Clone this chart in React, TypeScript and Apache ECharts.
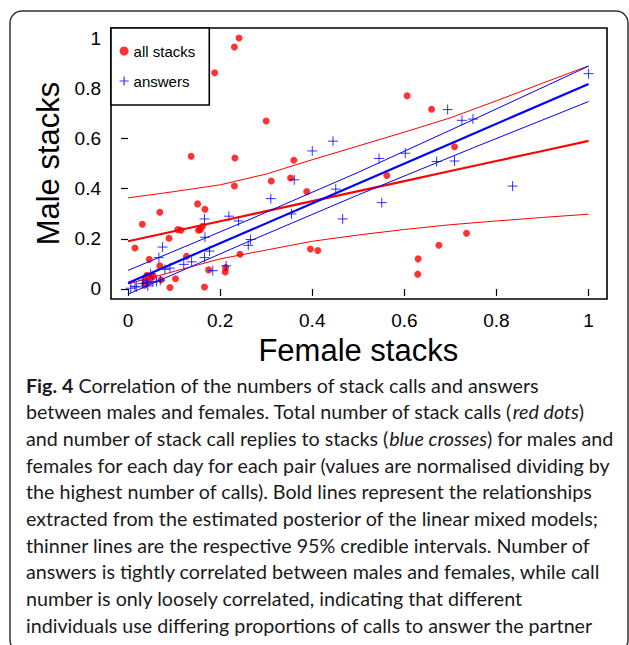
import React, { useEffect, useRef } from "react";
import * as echarts from "echarts";

const FONT = "'Liberation Sans', Arial, Helvetica, sans-serif";
const CAP_FONT = "Lato, 'Open Sans', sans-serif";

const xTicks = [0, 0.2, 0.4, 0.6, 0.8, 1];
const yTicks = [0, 0.2, 0.4, 0.6, 0.8, 1];

// all stacks (red dots)
const stackX = [0.241, 0.231, 0.188, 0.3, 0.137, 0.232, 0.36, 0.353, 0.311, 0.231, 0.388, 0.151, 0.167, 0.069, 0.031, 0.162, 0.153, 0.157, 0.108, 0.115, 0.089, 0.015, 0.127, 0.046, 0.243, 0.069, 0.175, 0.211, 0.212, 0.103, 0.072, 0.041, 0.049, 0.038, 0.045, 0.055, 0.036, 0.091, 0.166, 0.396, 0.412, 0.606, 0.659, 0.709, 0.562, 0.63, 0.629, 0.675, 0.735];
const stackY = [1.0, 0.964, 0.862, 0.669, 0.529, 0.522, 0.513, 0.442, 0.43, 0.41, 0.388, 0.339, 0.318, 0.306, 0.258, 0.25, 0.234, 0.237, 0.237, 0.234, 0.202, 0.163, 0.13, 0.118, 0.138, 0.092, 0.076, 0.068, 0.085, 0.041, 0.037, 0.055, 0.048, 0.035, 0.028, 0.05, 0.015, 0.006, 0.008, 0.159, 0.153, 0.77, 0.716, 0.567, 0.452, 0.12, 0.059, 0.174, 0.222];

// answers (blue crosses)
const answerX = [0.4, 0.361, 0.31, 0.355, 0.219, 0.24, 0.166, 0.167, 0.075, 0.266, 0.261, 0.067, 0.177, 0.166, 0.138, 0.121, 0.184, 0.213, 0.08, 0.091, 0.049, 0.07, 0.062, 0.04, 0.031, 0.043, 0.015, 0.018, 0.006, 0.054, 0.033, 0.445, 0.451, 0.466, 0.545, 0.551, 0.602, 0.67, 0.709, 0.694, 0.725, 0.749, 0.835, 1.0];
const answerY = [0.55, 0.435, 0.36, 0.299, 0.29, 0.271, 0.279, 0.206, 0.167, 0.197, 0.174, 0.125, 0.151, 0.125, 0.108, 0.098, 0.073, 0.092, 0.078, 0.083, 0.061, 0.035, 0.03, 0.025, 0.022, 0.012, 0.011, 0.008, 0.003, 0.028, 0.035, 0.589, 0.398, 0.279, 0.52, 0.344, 0.541, 0.508, 0.51, 0.715, 0.672, 0.677, 0.41, 0.858];

// model lines for stacks
const stackLineX = [0, 0.1, 0.2, 0.3, 0.4, 0.5, 0.6, 0.7, 0.8, 0.9, 1];
const stackFit = [0.19, 0.23, 0.27, 0.31, 0.35, 0.39, 0.43, 0.47, 0.51, 0.55, 0.59];
const stackUpper = [0.363, 0.388, 0.415, 0.458, 0.515, 0.57, 0.625, 0.682, 0.75, 0.82, 0.889];
const stackLower = [0.02, 0.07, 0.12, 0.155, 0.19, 0.215, 0.237, 0.256, 0.271, 0.285, 0.298];

// model lines for answers
const answerLineX = [0, 0.25, 0.5, 0.75, 1];
const answerFit = [0.024, 0.222, 0.42, 0.619, 0.817];
const answerUpper = [0.074, 0.266, 0.465, 0.675, 0.888];
const answerLower = [-0.021, 0.18, 0.375, 0.563, 0.747];

const captionLines = [
  "{b|Fig. 4} Correlation of the numbers of stack calls and answers",
  "between males and females. Total number of stack calls ({i|red dots})",
  "and number of stack call replies to stacks ({i|blue crosses}) for males and",
  "females for each day for each pair (values are normalised dividing by",
  "the highest number of calls). Bold lines represent the relationships",
  "extracted from the estimated posterior of the linear mixed models;",
  "thinner lines are the respective 95% credible intervals. Number of",
  "answers is tightly correlated between males and females, while call",
  "number is only loosely correlated, indicating that different",
  "individuals use differing proportions of calls to answer the partner",
];

const CROSS = "path://M5,0L5,10M0,5L10,5";
const RED = "#ff0000";
const BLUE = "#0000ff";

const pairs = (xs: number[], ys: number[]) => xs.map((x, i) => [x, ys[i]]);
const fmt = (v: number) => String(Math.round(v * 10) / 10);

export default function App() {
  const ref = useRef<HTMLDivElement>(null);
  useEffect(() => {
    if (!ref.current) return;
    const chart = echarts.init(ref.current, undefined, { renderer: "svg" });
    const capSize = 19.7;
    const box = { left: 111, top: 28, width: 496, height: 271 };
    const pxPerX = box.width / 1.077;
    const pxPerY = box.height / 1.08;
    const dataGrid = {
      left: box.left + 0.037 * pxPerX,
      top: box.top + 0.04 * pxPerY,
      width: pxPerX,
      height: pxPerY,
    };
    const xOffset = box.top + box.height - (dataGrid.top + dataGrid.height);
    const yOffset = dataGrid.left - box.left;

    const lineSeries = (xs: number[], ys: number[], color: string, width: number) => ({
      type: "line",
      xAxisIndex: 1,
      yAxisIndex: 1,
      data: pairs(xs, ys),
      showSymbol: false,
      symbol: "none",
      silent: true,
      clip: false,
      lineStyle: { color, width },
      z: 3,
    });
    const labelStyle = {
      formatter: fmt,
      fontSize: 19,
      fontFamily: FONT,
      color: "#000",
      hideOverlap: false,
      showMinLabel: true,
      showMaxLabel: true,
    };
    chart.setOption({
      animation: false,
      backgroundColor: "#ffffff",
      grid: [
        {
          ...box,
          show: true,
          borderColor: "#000",
          borderWidth: 1.6,
          backgroundColor: "transparent",
        },
        { ...dataGrid, show: false },
      ],
      xAxis: [
        { type: "value", gridIndex: 0, min: 0, max: 1, show: false },
        {
          type: "value",
          gridIndex: 1,
          min: 0,
          max: 1,
          interval: 0.2,
          offset: xOffset,
          axisLine: { show: false },
          splitLine: { show: false },
          axisTick: { show: true, length: 7, lineStyle: { color: "#000", width: 1.2 } },
          axisLabel: { ...labelStyle, margin: 12 },
          name: "Female stacks",
          nameLocation: "middle",
          nameGap: 36,
          nameTextStyle: { fontSize: 31, fontFamily: FONT, color: "#000" },
        },
      ],
      yAxis: [
        { type: "value", gridIndex: 0, min: 0, max: 1, show: false },
        {
          type: "value",
          gridIndex: 1,
          min: 0,
          max: 1,
          interval: 0.2,
          offset: yOffset,
          axisLine: { show: false },
          splitLine: { show: false },
          axisTick: { show: true, length: 7, lineStyle: { color: "#000", width: 1.2 } },
          axisLabel: { ...labelStyle, margin: 10 },
        },
      ],
      legend: {
        left: 111,
        top: 28,
        orient: "vertical",
        padding: [13, 14, 14, 8],
        itemWidth: 9,
        itemHeight: 9,
        itemGap: 10,
        borderColor: "#000",
        borderWidth: 1.6,
        backgroundColor: "#fff",
        selectedMode: false,
        textStyle: { fontSize: 15, fontFamily: FONT, color: "#000", lineHeight: 20 },
        data: [
          { name: "all stacks", icon: "circle", itemStyle: { color: RED, borderWidth: 0 } },
          { name: "answers", icon: CROSS, itemStyle: { color: "transparent", borderColor: BLUE, borderWidth: 1.2 } },
        ],
      },
      graphic: [
        {
          type: "rect",
          silent: true,
          z: -10,
          shape: { x: 10, y: 11, width: 618, height: 641, r: 12 },
          style: { fill: "none", stroke: "#333", lineWidth: 1.5 },
        },
        {
          type: "text",
          silent: true,
          x: 48,
          y: box.top + box.height / 2,
          rotation: Math.PI / 2,
          style: {
            text: "Male stacks",
            fontSize: 31,
            fontFamily: FONT,
            fill: "#000",
            align: "center",
            verticalAlign: "middle",
          },
        },
        ...captionLines.map((t, i) => ({
          type: "text",
          silent: true,
          x: 26,
          y: 385 + i * 26.7,
          style: {
            text: t,
            fill: "#1a1a1a",
            fontSize: capSize,
            fontFamily: CAP_FONT,
            align: "left",
            verticalAlign: "middle",
            rich: {
              b: { fontWeight: "bold", fontSize: capSize, fontFamily: CAP_FONT, fill: "#1a1a1a" },
              i: { fontStyle: "italic", fontSize: capSize, fontFamily: CAP_FONT, fill: "#1a1a1a" },
            },
          },
        })),
      ],
      series: [
        {
          name: "all stacks",
          type: "scatter",
          xAxisIndex: 1,
          yAxisIndex: 1,
          clip: false,
          data: pairs(stackX, stackY),
          symbol: "circle",
          symbolSize: 7,
          itemStyle: { color: RED },
          z: 2,
        },
        {
          name: "answers",
          type: "scatter",
          xAxisIndex: 1,
          yAxisIndex: 1,
          clip: false,
          data: pairs(answerX, answerY),
          symbol: CROSS,
          symbolSize: 10,
          itemStyle: { color: "transparent", borderColor: BLUE, borderWidth: 1 },
          z: 2,
        },
        lineSeries(stackLineX, stackFit, RED, 2.2),
        lineSeries(stackLineX, stackUpper, RED, 1),
        lineSeries(stackLineX, stackLower, RED, 1),
        lineSeries(answerLineX, answerFit, BLUE, 2.2),
        lineSeries(answerLineX, answerUpper, BLUE, 1),
        lineSeries(answerLineX, answerLower, BLUE, 1),
      ],
    });
    return () => chart.dispose();
  }, []);
  return (
    <div
      ref={ref}
      style={{ position: "absolute", left: 0, top: 0, width: 629, height: 645, background: "#fff" }}
    />
  );
}
